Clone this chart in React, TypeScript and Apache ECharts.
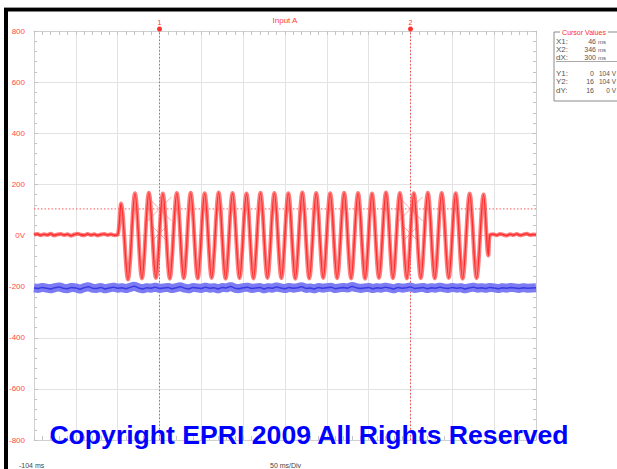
import React, { useEffect, useRef } from "react";
import * as echarts from "echarts";

// ---- axis definition (oscilloscope screen) ----
const timeStartMs = -104;
const msPerDiv = 50;
const divisions = 12;
const voltTicks = [-800, -600, -400, -200, 0, 200, 400, 600, 800];

// ---- cursors ----
const cursorTimesMs = [46, 346];
const cursorNames = ["1", "2"];
const cursorLevelV = 104;
const zeroLevelV = 0;
const cursorMarkerLevelsV = [104, 8];

// ---- red trace (Input A) ----
const redLeadTimes = [-104, -100, -96, -92, -88, -84, -80, -76, -72, -68, -64, -60, -56, -52, -48, -44, -40, -36, -32, -28, -24, -20, -16, -12, -8, -4];
const redLeadValues = [3, 6, 1, 5, 2, 7, 0, 4, 6, 2, 5, -1, 4, 7, 3, 1, 6, 2, 5, 0, 4, 6, 2, 5, 1, 3];
const redSwingTimes = [
  0, 8.3, 16.7, 25, 33.3, 41.7, 50, 58.3, 66.7, 75, 83.3, 91.7, 100, 108.3, 116.7, 125, 133.3, 141.7,
  150, 158.3, 166.7, 175, 183.3, 191.7, 200, 208.3, 216.7, 225, 233.3, 241.7, 250, 258.3, 266.7, 275,
  283.3, 291.7, 300, 308.3, 316.7, 325, 333.3, 341.7, 350, 358.3, 366.7, 375, 383.3, 391.7, 400, 408.3,
  416.7, 425, 433.3,
];
const redSwingValues = [
  125, -172, 165, -168, 167, -166, 164, -169, 166, -167, 167, -168, 165, -166, 168, -169, 166, -167,
  164, -168, 167, -166, 166, -167, 165, -169, 168, -168, 166, -166, 165, -167, 167, -168, 166, -169,
  164, -166, 168, -167, 166, -168, 165, -167, 167, -168, 166, -166, 165, -169, 164, -167, 160,
];
const redTailTimes = [439, 441, 445, 449, 453, 457, 461, 465, 469, 473, 477, 481, 485, 489, 493, 496];
const redTailValues = [-78, 2, 5, 1, 6, 3, 0, 5, 2, 6, 1, 4, 7, 2, 4, 3];

// ---- blue trace ----
const blueStartMs = -104;
const blueStepMs = 5;
const blueValues = [
  -205, -207, -203, -206, -209, -204, -201, -206, -208, -203,
  -205, -210, -204, -200, -206, -207, -203, -209, -205, -202,
  -206, -204, -208, -203, -198, -205, -209, -204, -206, -202,
  -207, -205, -203, -208, -204, -200, -206, -209, -203, -205,
  -207, -202, -206, -204, -209, -203, -205, -199, -206, -208,
  -204, -202, -207, -205, -203, -209, -204, -206, -201, -205,
  -208, -203, -206, -204, -200, -207, -205, -209, -203, -206,
  -204, -202, -208, -205, -203, -206, -199, -204, -207, -205,
  -203, -208, -204, -206, -202, -205, -209, -203, -206, -204,
  -201, -207, -205, -203, -208, -204, -206, -202, -205, -207,
  -203, -206, -204, -209, -205, -202, -206, -204, -207, -203,
  -205, -208, -204, -206, -203, -205, -207, -204, -206, -205,
  -204,
];

// ---- texts ----
const titleText = "Input A";
const startLabel = "-104 ms";
const scaleLabel = "50 ms/Div";
const copyrightText = "Copyright EPRI 2009 All Rights Reserved";
const cursorBoxTitle = "Cursor Values";
const cursorRowsX = [
  ["X1:", "46", "ms"],
  ["X2:", "346", "ms"],
  ["dX:", "300", "ms"],
];
const cursorRowsY = [
  ["Y1:", "0", "104 V"],
  ["Y2:", "16", "104 V"],
  ["dY:", "16", "0 V"],
];

const NARROW = '"Liberation Sans Narrow", "Arial Narrow", "Liberation Sans", Arial, sans-serif';

export default function App() {
  const ref = useRef<HTMLDivElement>(null);

  useEffect(() => {
    if (!ref.current) return;
    const chart = echarts.init(ref.current, undefined, { renderer: "svg" });

    const toX = (t: number) => t - timeStartMs;
    const redData: number[][] = [];
    redLeadTimes.forEach((t, i) => redData.push([toX(t), redLeadValues[i]]));
    redSwingTimes.forEach((t, i) => redData.push([toX(t), redSwingValues[i]]));
    redTailTimes.forEach((t, i) => redData.push([toX(t), redTailValues[i]]));
    const blueData = blueValues.map((v, i) => [toX(blueStartMs + i * blueStepMs), v]);

    const xMax = msPerDiv * divisions;
    const yMin = voltTicks[0];
    const yMax = voltTicks[voltTicks.length - 1];
    const gridLine = { color: "#e3e3e3", width: 1 };
    const tickLine = { color: "#c4c4c4", width: 1 };

    const xAxisBase = {
      type: "value" as const,
      min: 0,
      max: xMax,
      interval: msPerDiv,
      axisLine: { show: true, onZero: false, lineStyle: { color: "#d0d0d0" } },
      axisTick: { show: true, inside: true, length: 4, lineStyle: tickLine },
      minorTick: { show: true, splitNumber: 5, length: 4, lineStyle: tickLine },
      axisLabel: { show: false },
    };
    const yAxisBase = {
      type: "value" as const,
      min: yMin,
      max: yMax,
      interval: voltTicks[1] - voltTicks[0],
      axisLine: { show: true, onZero: false, lineStyle: { color: "#d0d0d0" } },
      axisTick: { show: true, inside: true, length: 4, lineStyle: tickLine },
      minorTick: { show: true, splitNumber: 5, length: 3, lineStyle: tickLine },
    };

    const xMarkPath = "path://M0 0L10 10M10 0L0 10";

    const rows: any[] = [];
    const boxLeft = 554;
    const small = `7px ${NARROW}`;
    cursorRowsX.forEach((r, i) => {
      const y = 41 + i * 8;
      rows.push({ type: "text", x: boxLeft + 2, y, style: { text: r[0], font: `8px ${NARROW}`, fill: "#555", verticalAlign: "middle" } });
      rows.push({ type: "text", x: 596, y, style: { text: r[1], font: small, fill: "#555", align: "right", verticalAlign: "middle" } });
      rows.push({ type: "text", x: 598, y: y + 0.5, style: { text: r[2], font: `6px ${NARROW}`, fill: "#555", verticalAlign: "middle" } });
    });
    cursorRowsY.forEach((r, i) => {
      const y = 73 + i * 8.5;
      rows.push({ type: "text", x: boxLeft + 2, y, style: { text: r[0], font: `8px ${NARROW}`, fill: "#555", verticalAlign: "middle" } });
      rows.push({ type: "text", x: 594, y, style: { text: r[1], font: small, fill: "#555", align: "right", verticalAlign: "middle" } });
      rows.push({ type: "text", x: 616, y, style: { text: r[2], font: `6.5px ${NARROW}`, fill: "#555", align: "right", verticalAlign: "middle" } });
    });

    const dottedLine = (name: string, data: number[][], color: string, z: number) => ({
      type: "line",
      name,
      data,
      showSymbol: false,
      silent: true,
      color,
      lineStyle: { color, width: 1, type: [1.5, 2] },
      z,
    });

    const cursorSeries = cursorTimesMs.map((t, i) => ({
      ...dottedLine(`cursor ${cursorNames[i]}`, [[toX(t), yMin], [toX(t), yMax]], "#ff5050", 2),
      markPoint: {
        silent: true,
        symbol: "circle",
        symbolSize: 5,
        symbolOffset: [0, -2],
        itemStyle: { color: "#ff3030" },
        label: {
          show: true,
          position: "top",
          distance: 1,
          color: "#ff3030",
          fontSize: 7,
          fontFamily: NARROW,
          formatter: cursorNames[i],
        },
        data: [{ coord: [toX(t), yMax] }],
      },
    }));

    chart.setOption({
      animation: false,
      backgroundColor: "#ffffff",
      grid: { left: 34, top: 31, width: 502, height: 409, containLabel: false },
      xAxis: [
        { ...xAxisBase, position: "bottom", splitLine: { show: true, lineStyle: gridLine } },
        { ...xAxisBase, position: "top", splitLine: { show: false } },
      ],
      yAxis: [
        {
          ...yAxisBase,
          position: "left",
          splitLine: { show: true, lineStyle: gridLine },
          axisLabel: {
            show: true,
            color: "#ff4a4a",
            fontSize: 8,
            fontFamily: NARROW,
            margin: 9,
            formatter: (v: number) => (v === 0 ? "0V" : String(v)),
          },
        },
        { ...yAxisBase, position: "right", splitLine: { show: false }, axisLabel: { show: false } },
      ],
      series: [
        dottedLine("zero level", [[0, zeroLevelV], [xMax, zeroLevelV]], "#bdbdbd", 1),
        dottedLine("cursor level", [[0, cursorLevelV], [xMax, cursorLevelV]], "#ff5a5a", 2),
        ...cursorSeries,
        {
          type: "line",
          name: "blue halo",
          data: blueData,
          showSymbol: false,
          silent: true,
          color: "#7b7bf3",
          lineStyle: { color: "#7b7bf3", width: 9 },
          z: 3,
        },
        {
          type: "line",
          name: "blue",
          data: blueData,
          showSymbol: false,
          silent: true,
          color: "#3535e0",
          lineStyle: { color: "#3a3ae2", width: 1.5 },
          z: 4,
        },
        {
          type: "line",
          name: "Input A halo",
          data: redData,
          smooth: 0.35,
          showSymbol: false,
          silent: true,
          color: "#ff5050",
          lineStyle: { color: "rgba(255,80,80,0.75)", width: 4 },
          z: 5,
        },
        {
          type: "line",
          name: "Input A",
          data: redData,
          smooth: 0.35,
          showSymbol: false,
          silent: true,
          color: "#ff2a2a",
          lineStyle: { color: "#ff2a2a", width: 1.3 },
          z: 6,
          markPoint: {
            silent: true,
            symbol: xMarkPath,
            label: { show: false },
            itemStyle: { color: "none", borderColor: "rgba(255,90,90,0.55)", borderWidth: 1 },
            data: cursorTimesMs.flatMap((t) =>
              cursorMarkerLevelsV.map((v, j) => ({
                coord: [toX(t), v],
                symbolSize: j === 0 ? 24 : 16,
              }))
            ),
          },
        },
      ],
      graphic: [
        { type: "rect", shape: { x: 4, y: 7, width: 613, height: 1 }, style: { fill: "#9a9a9a" }, silent: true },
        { type: "rect", shape: { x: 4, y: 8, width: 613, height: 3.5 }, style: { fill: "#000" }, silent: true },
        { type: "rect", shape: { x: 4, y: 8, width: 4, height: 461 }, style: { fill: "#000" }, silent: true },
        {
          type: "text",
          x: 285,
          y: 20,
          style: { text: titleText, font: `8px ${NARROW}`, fill: "#ff3a3a", align: "center", verticalAlign: "middle" },
        },
        {
          type: "text",
          x: 19,
          y: 465,
          style: { text: startLabel, font: `7px ${NARROW}`, fill: "#444", verticalAlign: "middle" },
        },
        {
          type: "text",
          x: 270,
          y: 465,
          style: { text: scaleLabel, font: `7px ${NARROW}`, fill: "#444", verticalAlign: "middle" },
        },
        {
          type: "rect",
          shape: { x: boxLeft, y: 32, width: 70, height: 69 },
          style: { fill: "#fff", stroke: "#8a8a8a", lineWidth: 1 },
          z: 10,
        },
        {
          type: "line",
          shape: { x1: boxLeft + 2, y1: 61.5, x2: 617, y2: 61.5 },
          style: { stroke: "#aaa", lineWidth: 1 },
          z: 11,
        },
        {
          type: "text",
          x: 584,
          y: 32,
          style: {
            text: cursorBoxTitle,
            font: `7px ${NARROW}`,
            fill: "#ff2a2a",
            align: "center",
            verticalAlign: "middle",
            backgroundColor: "#fff",
            padding: [0, 2],
          },
          z: 12,
        },
        ...rows.map((r) => ({ ...r, z: 12 })),
        {
          type: "text",
          x: 309,
          y: 435,
          style: {
            text: copyrightText,
            font: 'bold 26.6px "Liberation Sans", Arial, sans-serif',
            fill: "#0000ff",
            align: "center",
            verticalAlign: "middle",
          },
          z: 20,
        },
      ],
    });

    return () => chart.dispose();
  }, []);

  return (
    <div
      ref={ref}
      style={{ position: "fixed", left: 0, top: 0, width: 617, height: 469, background: "#fff" }}
    />
  );
}
